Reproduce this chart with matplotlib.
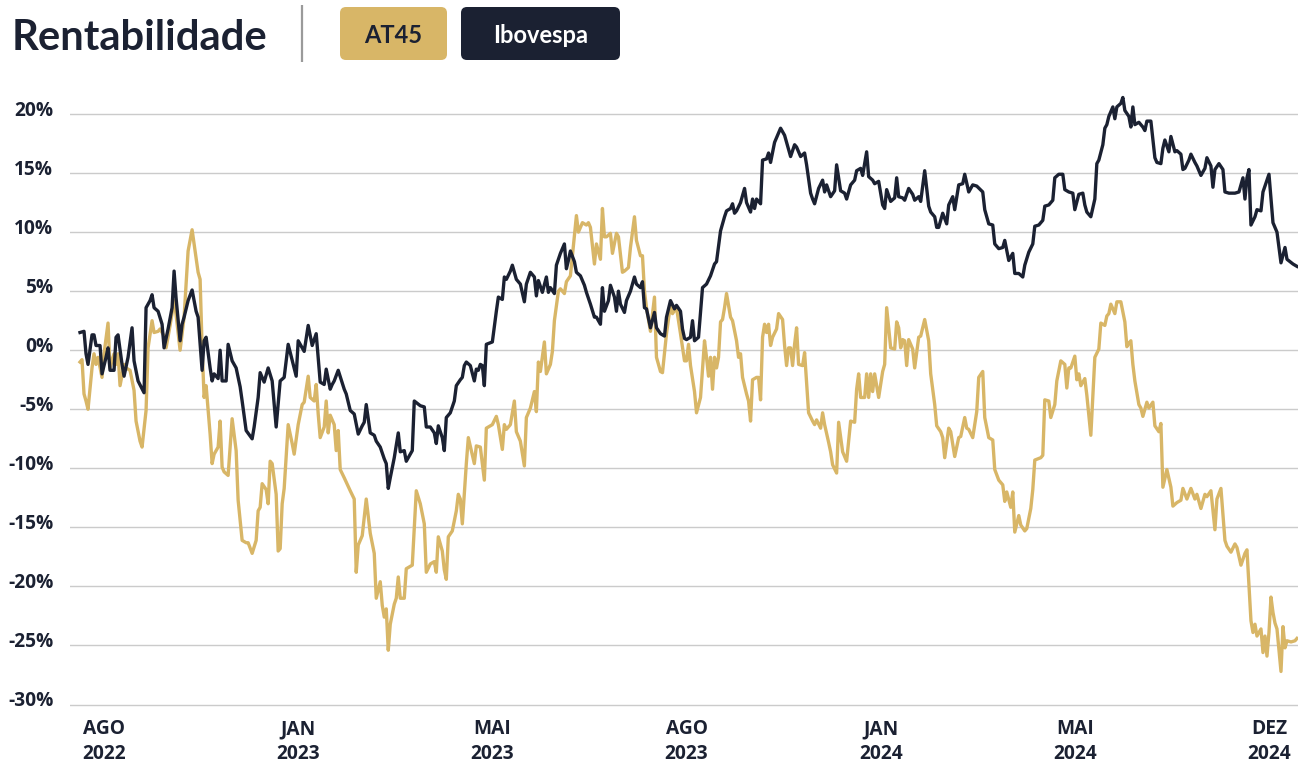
import matplotlib
matplotlib.use("Agg")
import matplotlib.pyplot as plt
from matplotlib.patches import FancyBboxPatch
from matplotlib.ticker import FuncFormatter
from matplotlib.transforms import ScaledTranslation

# ---------------- data ----------------
title = "Rentabilidade"
series_names = ["AT45", "Ibovespa"]
tick_days = [12, 109, 206, 303, 400, 497, 594]
tick_labels = ["AGO\n2022", "JAN\n2023", "MAI\n2023", "AGO\n2023",
               "JAN\n2024", "MAI\n2024", "DEZ\n2024"]
y_ticks = [-30, -25, -20, -15, -10, -5, 0, 5, 10, 15, 20]

at45_days = [0, 1, 2, 3, 4, 6, 7, 8, 9, 11, 12, 14, 15, 17, 18, 19, 20, 22, 23, 25, 27, 28, 30, 31, 33, 34, 36, 37, 39, 40,
             42, 43, 45, 47, 48, 50, 52, 53, 54, 56, 57, 59, 60, 61, 62, 63, 65, 66, 67, 69, 70, 71, 72, 74, 76, 78, 79, 81, 83, 84,
             86, 88, 89, 90, 91, 93, 94, 95, 96, 98, 99, 100, 101, 102, 104, 106, 107, 109, 111, 112, 114, 115, 117, 118, 119, 120, 122, 123, 124, 125,
             127, 128, 129, 130, 132, 135, 137, 138, 139, 141, 143, 145, 147, 148, 150, 151, 152, 153, 154, 155, 157, 158, 159, 160, 162, 163, 164, 166, 168, 170,
             172, 173, 175, 177, 178, 179, 181, 182, 183, 184, 186, 188, 189, 190, 191, 193, 194, 197, 198, 200, 202, 203, 206, 208, 209, 211, 212, 213, 215, 217,
             218, 220, 222, 223, 225, 227, 228, 229, 230, 232, 233, 235, 236, 237, 239, 240, 242, 243, 245, 246, 248, 249, 251, 253, 254, 255, 257, 258, 260, 261,
             262, 263, 265, 266, 268, 269, 271, 272, 274, 275, 277, 278, 280, 281, 282, 283, 285, 287, 288, 290, 291, 293, 295, 296, 298, 300, 302, 303, 304, 305,
             307, 308, 310, 312, 313, 314, 315, 316, 317, 318, 319, 320, 321, 322, 323, 325, 326, 328, 329, 330, 331, 333, 334, 335, 336, 338, 339, 340, 341, 342,
             343, 344, 345, 346, 348, 349, 351, 352, 353, 354, 355, 356, 357, 358, 359, 361, 362, 364, 366, 367, 368, 370, 371, 372, 374, 375, 376, 378, 379, 381,
             383, 385, 387, 388, 389, 390, 392, 393, 394, 395, 396, 397, 399, 401, 402, 403, 405, 407, 408, 409, 410, 411, 412, 413, 414, 416, 417, 419, 420, 422,
             424, 425, 427, 428, 430, 431, 432, 434, 435, 437, 439, 440, 442, 443, 444, 446, 448, 449, 451, 452, 454, 456, 457, 459, 461, 462, 463, 465, 466, 467,
             469, 470, 472, 473, 475, 476, 477, 480, 481, 482, 484, 485, 487, 488, 490, 492, 493, 494, 495, 497, 498, 499, 500, 502, 503, 505, 507, 509, 510, 512,
             513, 514, 515, 517, 518, 519, 520, 522, 523, 524, 525, 526, 527, 529, 530, 531, 533, 534, 536, 537, 539, 540, 541, 543, 545, 546, 548, 550, 551, 553,
             555, 557, 558, 560, 562, 563, 565, 567, 568, 570, 572, 573, 575, 577, 578, 580, 582, 583, 585, 586, 587, 588, 590, 591, 592, 593, 594, 595, 596, 597,
             598, 600, 601, 602, 603, 605, 607, 608]
at45_vals = [-1.0, -0.8, -3.7, -4.3, -5.0, -1.5, -0.3, -1.2, -0.6, -2.3, -0.3, 2.3, -1.5, -0.3, -1.2, -0.3, -3.0, -1.2, -1.5, -1.7, -3.4, -6.0, -7.7, -8.2, -5.1, 0.2, 2.5, 1.5, 1.6, 1.8,
             1.2, 0.2, 2.1, 4.2, 3.0, 0.0, 2.8, 5.6, 8.4, 10.2, 9.0, 6.6, 6.0, 0.2, -4.0, -3.0, -7.1, -9.6, -8.8, -8.2, -6.0, -9.9, -10.3, -10.6, -5.8, -8.5, -12.7, -16.1, -16.3, -16.3,
             -17.2, -16.1, -13.6, -13.3, -11.3, -11.8, -13.0, -9.4, -9.6, -12.2, -17.0, -16.8, -13.0, -11.7, -6.3, -7.9, -8.8, -6.3, -4.6, -4.4, -2.2, -4.0, -4.3, -2.9, -5.4, -7.4, -6.5, -4.3, -7.0, -5.5,
             -6.3, -8.5, -6.8, -10.1, -10.8, -11.9, -12.6, -18.8, -16.5, -15.7, -12.6, -15.5, -17.2, -21.0, -19.6, -21.6, -22.6, -21.9, -25.4, -23.2, -21.5, -21.0, -19.2, -21.0, -21.0, -18.5, -18.4, -18.2, -11.9, -13.0,
             -14.7, -18.8, -18.1, -17.9, -18.8, -15.8, -17.0, -18.6, -19.4, -15.8, -15.3, -13.6, -12.2, -12.6, -14.7, -9.6, -7.4, -9.6, -8.1, -8.2, -11.0, -6.6, -6.3, -5.6, -6.3, -8.4, -6.3, -6.7, -6.3, -4.3,
             -6.9, -7.7, -9.8, -5.7, -4.9, -3.5, -5.2, -1.0, -1.8, 0.7, -2.0, -1.2, -0.1, 2.5, 5.0, 5.2, 4.8, 5.8, 6.3, 8.0, 11.4, 10.0, 10.8, 10.6, 10.8, 10.4, 7.3, 9.0, 7.7, 12.0,
             9.6, 9.6, 9.9, 8.2, 9.9, 9.6, 6.6, 6.7, 7.0, 8.7, 11.3, 9.3, 8.0, 8.0, 5.0, 3.6, 1.6, 4.5, -0.6, -1.8, -1.9, 1.4, 3.9, 3.1, 3.6, 1.4, -0.9, -0.9, 0.5, -1.3,
             -3.5, -5.3, -4.0, 0.8, -0.6, -2.2, -0.6, -3.3, -0.6, -1.5, -0.6, 2.4, 2.6, 3.6, 4.8, 2.8, 2.5, 0.8, -0.6, -0.3, -2.3, -3.7, -4.3, -6.0, -2.5, -2.3, -2.3, -4.2, 1.1, 2.2,
             1.5, 2.2, 0.4, 1.1, 1.8, 3.1, 2.6, 0.4, -1.3, 0.2, 0.2, -1.3, 0.5, 1.9, -1.2, -1.3, -0.2, -5.3, -6.0, -6.3, -5.9, -6.6, -5.3, -6.3, -7.8, -8.6, -9.7, -10.4, -6.1, -8.6,
             -9.4, -6.0, -6.1, -3.3, -2.0, -4.0, -4.0, -2.0, -4.0, -2.0, -3.5, -2.0, -4.0, -1.8, -1.2, 3.6, 0.2, 0.1, 2.4, 1.9, 0.2, 0.9, 0.8, -1.3, 0.9, 0.1, -1.5, 1.1, 1.2, 2.6,
             0.8, -2.0, -4.6, -6.4, -6.9, -7.4, -9.1, -6.6, -6.9, -9.0, -7.4, -7.3, -5.7, -6.6, -6.7, -7.4, -5.2, -2.3, -1.8, -5.7, -7.4, -7.6, -10.1, -11.0, -11.4, -12.8, -12.0, -13.3, -12.0, -15.4,
             -14.0, -14.8, -15.3, -15.1, -13.4, -11.8, -9.3, -9.1, -8.9, -4.2, -4.3, -5.7, -4.6, -2.6, -0.9, -1.2, -3.2, -1.5, -1.5, -0.5, -2.5, -2.0, -3.0, -2.4, -3.8, -7.2, -0.6, 0.1, 2.3, 2.1,
             2.9, 3.1, 3.9, 3.1, 4.1, 4.1, 4.1, 2.4, 0.3, 0.6, 0.8, -1.2, -2.6, -4.6, -4.9, -5.6, -4.4, -4.9, -4.4, -6.4, -6.9, -6.2, -11.6, -10.1, -11.6, -13.2, -12.9, -12.7, -11.7, -12.6,
             -11.7, -12.6, -12.2, -13.4, -12.2, -12.4, -11.9, -15.2, -12.6, -11.7, -16.1, -16.6, -17.1, -16.4, -16.7, -18.2, -17.2, -16.9, -22.9, -23.9, -23.2, -24.2, -23.6, -25.6, -24.2, -25.9, -23.9, -20.9, -22.2, -23.1,
             -23.6, -27.2, -23.4, -25.2, -24.6, -24.7, -24.6, -24.4]

ibov_days = [0, 2, 3, 4, 6, 7, 8, 10, 11, 13, 14, 15, 17, 18, 19, 21, 22, 24, 26, 27, 29, 32, 33, 35, 36, 37, 39, 41, 42, 44,
             46, 47, 48, 50, 51, 52, 54, 56, 57, 58, 59, 61, 62, 63, 65, 66, 67, 69, 70, 71, 73, 74, 76, 78, 80, 81, 83, 86, 87, 89,
             90, 92, 94, 96, 98, 100, 102, 104, 108, 109, 112, 114, 116, 118, 120, 122, 123, 125, 126, 127, 129, 132, 133, 135, 137, 139, 141, 142, 143, 145,
             147, 148, 150, 152, 153, 154, 155, 157, 159, 160, 162, 163, 166, 167, 170, 172, 173, 175, 177, 178, 179, 181, 182, 183, 185, 187, 188, 190, 191, 192,
             193, 195, 197, 198, 199, 200, 201, 202, 203, 206, 208, 209, 211, 212, 213, 215, 216, 218, 220, 222, 223, 225, 227, 228, 229, 231, 233, 234, 235, 237,
             238, 240, 242, 243, 244, 245, 247, 248, 250, 252, 253, 255, 257, 258, 260, 261, 262, 264, 265, 267, 268, 269, 270, 272, 273, 275, 277, 278, 280, 281,
             282, 283, 285, 287, 288, 290, 292, 293, 295, 297, 298, 300, 301, 302, 303, 305, 306, 307, 309, 311, 313, 315, 317, 318, 320, 322, 323, 325, 326, 327,
             328, 330, 332, 333, 335, 336, 337, 338, 340, 341, 343, 344, 345, 347, 349, 350, 352, 353, 355, 357, 358, 360, 362, 363, 365, 366, 367, 369, 371, 372,
             373, 375, 377, 378, 380, 382, 383, 385, 387, 388, 390, 391, 393, 394, 396, 397, 399, 401, 402, 403, 405, 407, 408, 409, 411, 412, 414, 416, 417, 419,
             420, 422, 424, 425, 427, 428, 429, 430, 431, 433, 434, 436, 437, 439, 441, 442, 444, 446, 448, 451, 452, 454, 456, 457, 459, 461, 462, 464, 466, 467,
             469, 471, 472, 474, 476, 477, 479, 481, 482, 484, 486, 487, 489, 491, 492, 494, 496, 497, 499, 501, 502, 503, 505, 507, 508, 509, 511, 512, 513, 514,
             516, 517, 518, 520, 521, 522, 524, 525, 526, 527, 529, 531, 532, 533, 535, 537, 538, 540, 541, 542, 543, 544, 545, 547, 548, 550, 551, 552, 554, 555,
             557, 558, 560, 562, 563, 565, 566, 567, 569, 571, 572, 574, 577, 579, 581, 582, 583, 584, 585, 587, 588, 590, 591, 594, 596, 598, 600, 602, 603, 606,
             608]
ibov_vals = [1.5, 1.6, -0.3, -1.2, 1.3, 1.3, 0.4, 0.4, -2.0, -0.6, 0.2, -1.7, -1.7, 1.1, 1.3, -1.2, -2.2, -0.6, 1.9, -0.9, -2.6, -3.6, 3.6, 4.2, 4.7, 3.6, 3.3, 2.2, 0.2, 1.8,
             3.6, 6.7, 4.4, 0.8, 2.2, 2.8, 4.2, 5.1, 4.2, 3.3, 2.8, -1.7, 0.8, 1.1, -1.5, -2.6, -2.0, -2.4, 0.0, -2.6, -2.6, 0.5, -0.9, -1.5, -3.1, -4.3, -6.8, -7.5, -6.5, -4.0,
             -1.9, -2.7, -1.5, -2.6, -6.5, -2.6, -2.3, 0.5, -2.2, 0.8, -0.1, 2.1, 0.4, 1.4, -2.7, -2.9, -1.6, -3.3, -2.9, -2.6, -1.7, -3.3, -3.7, -5.1, -5.4, -7.1, -6.4, -6.1, -4.6, -7.0,
             -7.2, -7.7, -8.2, -9.2, -9.6, -11.7, -10.8, -9.1, -7.0, -8.6, -8.5, -9.4, -8.5, -4.3, -4.7, -4.8, -6.5, -6.5, -7.0, -7.9, -6.4, -7.4, -8.5, -5.7, -5.3, -4.3, -3.0, -2.5, -2.3, -1.3,
             -1.0, -1.3, -2.6, -1.6, -1.7, -1.2, -1.3, -3.0, 0.5, 0.7, 3.3, 4.5, 4.3, 6.2, 6.0, 6.7, 7.2, 6.0, 5.6, 4.1, 5.6, 6.6, 6.2, 4.6, 5.9, 4.9, 6.2, 4.9, 5.3, 4.8,
             7.2, 8.2, 9.0, 6.9, 7.6, 8.4, 7.5, 6.6, 6.3, 5.5, 4.9, 3.9, 2.8, 2.8, 2.2, 5.3, 3.3, 4.2, 5.5, 4.5, 3.3, 5.0, 3.9, 3.2, 4.2, 5.0, 6.2, 5.6, 5.3, 5.8,
             3.6, 3.5, 1.9, 3.2, 1.9, 1.4, 1.2, 2.8, 4.2, 3.5, 3.8, 3.3, 1.8, 1.0, 0.9, 1.1, 2.5, 0.8, 1.1, 5.3, 5.6, 6.3, 7.3, 7.5, 10.1, 11.3, 11.8, 12.0, 12.4, 11.6,
             11.8, 12.5, 13.7, 12.5, 11.7, 12.8, 12.0, 12.8, 12.4, 16.1, 16.2, 16.7, 15.9, 17.6, 18.4, 18.8, 18.2, 17.6, 16.4, 17.4, 17.2, 16.4, 16.7, 15.7, 13.3, 12.8, 12.4, 13.7, 14.4, 13.4,
             14.0, 13.0, 13.5, 15.7, 13.5, 13.3, 12.8, 14.0, 14.4, 15.2, 15.4, 14.8, 16.8, 14.7, 14.4, 14.1, 14.3, 12.3, 12.0, 13.6, 12.6, 12.9, 14.6, 13.0, 12.9, 12.7, 13.7, 13.2, 12.7, 13.0,
             12.6, 15.2, 12.2, 11.7, 11.3, 10.4, 10.4, 11.0, 11.6, 10.7, 12.3, 13.0, 11.9, 14.0, 14.1, 14.9, 13.4, 14.0, 13.9, 13.4, 11.9, 10.7, 10.6, 9.0, 8.6, 8.7, 9.3, 7.6, 8.2, 6.5,
             6.5, 6.2, 7.2, 8.3, 9.0, 10.5, 10.6, 11.0, 12.2, 12.3, 12.7, 14.6, 14.9, 14.9, 13.6, 13.4, 13.3, 11.9, 13.2, 13.3, 12.3, 11.7, 11.3, 12.8, 15.8, 16.1, 17.4, 18.8, 19.1, 19.8,
             20.6, 19.6, 20.6, 20.9, 21.4, 20.3, 19.8, 18.9, 20.6, 19.1, 19.3, 18.9, 18.6, 19.4, 19.4, 16.3, 15.9, 15.8, 17.1, 17.8, 17.3, 16.8, 18.1, 16.8, 16.9, 16.6, 15.3, 15.4, 16.1, 16.6,
             15.9, 15.6, 14.8, 15.4, 16.3, 15.6, 13.8, 15.3, 15.8, 15.3, 13.4, 13.3, 13.3, 13.4, 14.6, 12.8, 14.6, 15.3, 10.6, 11.3, 11.9, 11.8, 13.4, 14.9, 10.8, 10.0, 7.4, 8.7, 7.7, 7.3,
             7.1]

# ---------------- style ----------------
GOLD = "#D8B667"
NAVY = "#1B2132"
GRID = "#CBCBCB"
W, H = 1298, 768
TICK_FONT = ["Open Sans", "DejaVu Sans"]
HEAD_FONT = ["Lato", "DejaVu Sans"]

fig = plt.figure(figsize=(W / 100, H / 100), dpi=100)
fig.patch.set_facecolor("white")

ax_bottom_px, ax_top_px, ax_left_px = 706.9, 90.4, 70
ax = fig.add_axes([ax_left_px / W, (H - ax_bottom_px) / H,
                   (W - ax_left_px) / W, (ax_bottom_px - ax_top_px) / H])
ax.plot(at45_days, at45_vals, color=GOLD, lw=2.4, solid_joinstyle="round", zorder=3)
ax.plot(ibov_days, ibov_vals, color=NAVY, lw=2.4, solid_joinstyle="round", zorder=4)
ax.set_xlim(-5, 608.5)
ax.set_ylim(-30.2, 22)
ax.set_yticks(y_ticks)
ax.yaxis.set_major_formatter(FuncFormatter(lambda v, p: f"{int(round(v))}%"))
ax.set_xticks(tick_days)
ax.set_xticklabels(tick_labels)
ax.grid(axis="y", color=GRID, lw=1.0)
ax.grid(axis="x", visible=False)
ax.set_axisbelow(True)
for s in ax.spines.values():
    s.set_visible(False)
ax.tick_params(axis="both", length=0, colors=NAVY)
ax.tick_params(axis="y", pad=12)
ax.tick_params(axis="x", pad=9)
lift = ScaledTranslation(0, 6 / 100, fig.dpi_scale_trans)
for lab in ax.get_yticklabels():
    lab.set_fontfamily(TICK_FONT)
    lab.set_fontweight("bold")
    lab.set_fontsize(13.8)
    lab.set_transform(lab.get_transform() + lift)
for lab in ax.get_xticklabels():
    lab.set_fontfamily(TICK_FONT)
    lab.set_fontweight("bold")
    lab.set_fontsize(13.8)
    lab.set_linespacing(1.3)

# ---------------- header (pixel overlay) ----------------
ov = fig.add_axes([0, 0, 1, 1], zorder=5)
ov.set_xlim(0, W)
ov.set_ylim(H, 0)
ov.axis("off")
ov.patch.set_alpha(0)

t = ov.text(12, 50.5, title, fontsize=30, fontweight="bold", family=HEAD_FONT,
            color=NAVY, va="baseline", ha="left")
fig.canvas.draw()
bb = t.get_window_extent()
t.set_fontsize(30 * 255.0 / bb.width)

ov.plot([302, 302], [5, 62], color="#9A9A9A", lw=1.6, solid_capstyle="butt")

boxes = [(340, 447, GOLD, NAVY), (461, 620, NAVY, "white")]
for name, (x0, x1, fc, tc) in zip(series_names, boxes):
    ov.add_patch(FancyBboxPatch((x0, 7), x1 - x0, 53,
                                boxstyle="round,pad=0,rounding_size=6",
                                fc=fc, ec="none"))
    ov.text((x0 + x1) / 2, 43, name, fontsize=17, fontweight="bold",
            family=HEAD_FONT, color=tc, ha="center", va="baseline")

fig.savefig("out.png", dpi=100, facecolor="white")
